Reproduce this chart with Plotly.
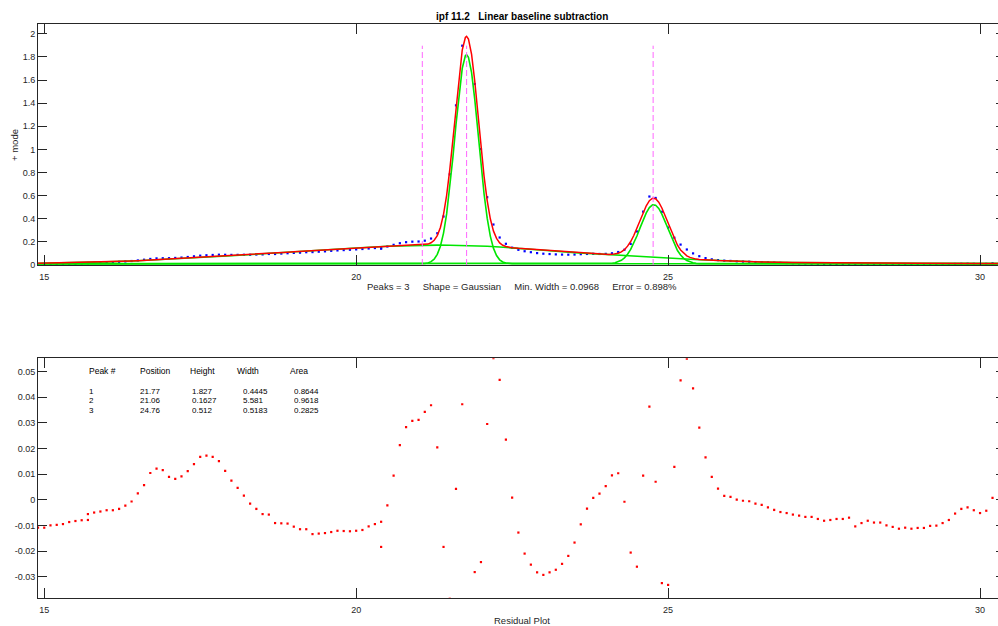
import plotly.graph_objects as go

NB = "\u00a0"

# ---------------- data ----------------
x_data = [14.9, 15.0, 15.1, 15.2, 15.3, 15.4, 15.5, 15.6, 15.7, 15.7, 15.8, 15.9,
          16.0, 16.1, 16.2, 16.3, 16.4, 16.5, 16.6, 16.7, 16.8, 16.9,
          17.0, 17.1, 17.2, 17.3, 17.4, 17.5, 17.6, 17.7, 17.8, 17.9,
          18.0, 18.1, 18.2, 18.3, 18.4, 18.5, 18.6, 18.7, 18.8, 18.9,
          19.0, 19.1, 19.2, 19.3, 19.4, 19.5, 19.6, 19.7, 19.8, 19.9,
          20.0, 20.1, 20.2, 20.3, 20.4, 20.4, 20.5, 20.6, 20.7, 20.8, 20.9,
          21.0, 21.1, 21.2, 21.3, 21.4, 21.5, 21.6, 21.7, 21.9,
          22.0, 22.1, 22.2, 22.3, 22.4, 22.5, 22.6, 22.7, 22.8, 22.9,
          23.0, 23.1, 23.2, 23.3, 23.4, 23.5, 23.6, 23.7, 23.8, 23.9,
          24.0, 24.1, 24.2, 24.3, 24.4, 24.5, 24.6, 24.7, 24.8, 24.9,
          25.0, 25.1, 25.2, 25.3, 25.4, 25.5, 25.6, 25.7, 25.8, 25.9,
          26.0, 26.1, 26.2, 26.3, 26.4, 26.5, 26.6, 26.7, 26.8, 26.9,
          27.0, 27.1, 27.2, 27.3, 27.4, 27.5, 27.6, 27.7, 27.8, 27.9,
          28.0, 28.1, 28.2, 28.3, 28.4, 28.5, 28.6, 28.7, 28.8, 28.9,
          29.0, 29.1, 29.2, 29.3, 29.4, 29.5, 29.6, 29.7, 29.8, 29.9,
          30.0, 30.1, 30.2]

y_data = [0.0042, 0.0052, 0.0071, 0.0073, 0.0086, 0.0104, 0.0118, 0.0131, 0.0152, 0.0175, 0.0191, 0.0215,
          0.0230, 0.0250, 0.0275, 0.0308, 0.0344, 0.0396, 0.0458, 0.0525, 0.0572, 0.0586,
          0.0590, 0.0612, 0.0642, 0.0692, 0.0750, 0.0808, 0.0843, 0.0868, 0.0891, 0.0883,
          0.0875, 0.0877, 0.0887, 0.0886, 0.0905, 0.0915, 0.0953, 0.0950, 0.0989, 0.1018,
          0.1046, 0.1066, 0.1106, 0.1117, 0.1149, 0.1181, 0.1225, 0.1260, 0.1289, 0.1318,
          0.1350, 0.1383, 0.1427, 0.1466, 0.1505, 0.1407, 0.1599, 0.1745, 0.1884, 0.1974, 0.2018,
          0.2032, 0.2103, 0.2289, 0.2745, 0.4197, 0.7845, 1.3813, 1.8973, 1.5659,
          1.0028, 0.5866, 0.3503, 0.2378, 0.1835, 0.1499, 0.1313, 0.1191, 0.1108, 0.1028,
          0.0978, 0.0948, 0.0918, 0.0901, 0.0892, 0.0904, 0.0935, 0.0956, 0.0968, 0.0955,
          0.0964, 0.1016, 0.1124, 0.1323, 0.1825, 0.2900, 0.4615, 0.5924, 0.5801, 0.4606,
          0.3239, 0.2359, 0.1766, 0.1341, 0.1005, 0.0762, 0.0596, 0.0490, 0.0424, 0.0376,
          0.0352, 0.0321, 0.0297, 0.0285, 0.0256, 0.0241, 0.0221, 0.0201, 0.0183, 0.0169,
          0.0153, 0.0139, 0.0134, 0.0124, 0.0106, 0.0099, 0.0092, 0.0096, 0.0086, 0.0091,
          0.0057, 0.0060, 0.0069, 0.0062, 0.0062, 0.0051, 0.0045, 0.0038, 0.0042, 0.0038,
          0.0031, 0.0031, 0.0039, 0.0040, 0.0050, 0.0062, 0.0087, 0.0105, 0.0111, 0.0100,
          0.0089, 0.0098, 0.0148]

residual = [-0.0108, -0.0108, -0.0099, -0.0097, -0.0094, -0.0086, -0.0082, -0.0079, -0.0078, -0.0055, -0.0049, -0.0045,
            -0.0040, -0.0040, -0.0035, -0.0022, -0.0006, 0.0026, 0.0058, 0.0105, 0.0122, 0.0116,
            0.0090, 0.0082, 0.0092, 0.0112, 0.0140, 0.0168, 0.0173, 0.0168, 0.0151, 0.0113,
            0.0075, 0.0047, 0.0017, -0.0014, -0.0035, -0.0055, -0.0057, -0.0090, -0.0091, -0.0092,
            -0.0104, -0.0114, -0.0114, -0.0133, -0.0131, -0.0129, -0.0125, -0.0120, -0.0121, -0.0122,
            -0.0120, -0.0117, -0.0103, -0.0094, -0.0085, -0.0183, -0.0021, 0.0095, 0.0214, 0.0284, 0.0308,
            0.0312, 0.0343, 0.0369, 0.0205, -0.0183, -0.0385, 0.0043, 0.0373, -0.0281,
            -0.0242, 0.0296, 0.0553, 0.0468, 0.0235, 0.0009, -0.0127, -0.0209, -0.0252, -0.0282,
            -0.0292, -0.0282, -0.0272, -0.0249, -0.0218, -0.0166, -0.0095, -0.0034, 0.0008, 0.0025,
            0.0054, 0.0096, 0.0104, -0.0007, -0.0205, -0.0260, 0.0095, 0.0364, 0.0071, -0.0324,
            -0.0331, 0.0129, 0.0466, 0.0551, 0.0435, 0.0282, 0.0166, 0.0090, 0.0044, 0.0016,
            0.0012, 0.0001, -0.0003, -0.0005, -0.0014, -0.0019, -0.0029, -0.0039, -0.0047, -0.0051,
            -0.0057, -0.0061, -0.0066, -0.0066, -0.0074, -0.0081, -0.0078, -0.0074, -0.0074, -0.0069,
            -0.0103, -0.0090, -0.0081, -0.0088, -0.0088, -0.0099, -0.0105, -0.0112, -0.0108, -0.0112,
            -0.0109, -0.0109, -0.0101, -0.0100, -0.0090, -0.0078, -0.0053, -0.0035, -0.0029, -0.0040,
            -0.0051, -0.0042, 0.0008]

# fitted model (red)
x_fit = [14.9, 15.0, 15.1, 15.2, 15.3, 15.4, 15.5, 15.6, 15.7, 15.8, 15.9,
         16.0, 16.1, 16.2, 16.3, 16.4, 16.5, 16.6, 16.7, 16.8, 16.9,
         17.0, 17.1, 17.2, 17.3, 17.4, 17.5, 17.6, 17.7, 17.8, 17.9,
         18.0, 18.1, 18.2, 18.3, 18.4, 18.5, 18.6, 18.7, 18.8, 18.9,
         19.0, 19.1, 19.2, 19.3, 19.4, 19.5, 19.6, 19.7, 19.8, 19.9,
         20.0, 20.1, 20.2, 20.3, 20.4, 20.5, 20.6, 20.7, 20.8, 20.9,
         21.0, 21.05, 21.1, 21.15, 21.2, 21.25, 21.3, 21.35, 21.4, 21.45,
         21.5, 21.55, 21.6, 21.65, 21.7, 21.75, 21.77, 21.8, 21.85, 21.9, 21.95,
         22.0, 22.05, 22.1, 22.15, 22.2, 22.25, 22.3, 22.35, 22.4, 22.45, 22.5,
         22.6, 22.7, 22.8, 22.9, 23.0, 23.1, 23.2, 23.3, 23.4, 23.5,
         23.6, 23.7, 23.8, 23.9, 24.0, 24.05, 24.1, 24.15, 24.2, 24.25,
         24.3, 24.35, 24.4, 24.45, 24.5, 24.55, 24.6, 24.65, 24.7, 24.75,
         24.8, 24.85, 24.9, 24.95, 25.0, 25.05, 25.1, 25.15, 25.2, 25.25,
         25.3, 25.35, 25.4, 25.45, 25.5, 25.6, 25.7, 25.8, 25.9, 26.0,
         26.5, 27.0, 27.5, 28.0, 29.0, 30.0, 30.4]
y_fit = [0.015, 0.016, 0.017, 0.017, 0.018, 0.019, 0.020, 0.021, 0.023, 0.024, 0.026,
         0.027, 0.029, 0.031, 0.033, 0.035, 0.037, 0.040, 0.042, 0.045, 0.047,
         0.050, 0.053, 0.055, 0.058, 0.061, 0.064, 0.067, 0.070, 0.074, 0.077,
         0.080, 0.083, 0.087, 0.090, 0.094, 0.097, 0.101, 0.104, 0.108, 0.111,
         0.115, 0.118, 0.122, 0.125, 0.128, 0.131, 0.135, 0.138, 0.141, 0.144,
         0.147, 0.150, 0.153, 0.156, 0.159, 0.162, 0.165, 0.167, 0.169, 0.171,
         0.172, 0.174, 0.176, 0.181, 0.192, 0.214, 0.254, 0.325, 0.438, 0.603,
         0.823, 1.089, 1.377, 1.649, 1.860, 1.968, 1.978, 1.955, 1.822, 1.594, 1.315,
         1.027, 0.767, 0.557, 0.400, 0.295, 0.230, 0.191, 0.171, 0.160, 0.154, 0.150,
         0.144, 0.140, 0.136, 0.131, 0.127, 0.123, 0.119, 0.115, 0.111, 0.107,
         0.103, 0.099, 0.096, 0.093, 0.091, 0.091, 0.092, 0.095, 0.102, 0.114,
         0.133, 0.163, 0.203, 0.255, 0.316, 0.385, 0.452, 0.512, 0.556, 0.578,
         0.573, 0.544, 0.493, 0.429, 0.357, 0.287, 0.223, 0.171, 0.130, 0.100,
         0.079, 0.066, 0.057, 0.051, 0.048, 0.043, 0.040, 0.038, 0.036, 0.034,
         0.026, 0.021, 0.018, 0.016, 0.015, 0.014, 0.014]

# component 1 (green)
x_comp1 = [14.9, 21.0, 21.05, 21.1, 21.15, 21.2, 21.25, 21.3, 21.35, 21.4, 21.45,
           21.5, 21.55, 21.6, 21.65, 21.7, 21.75, 21.77, 21.8, 21.85, 21.9, 21.95,
           22.0, 22.05, 22.1, 22.15, 22.2, 22.25, 22.3, 22.35, 22.4, 22.45, 22.5, 30.4]
y_comp1 = [0.010, 0.010, 0.011, 0.013, 0.018, 0.029, 0.051, 0.092, 0.163, 0.276, 0.442,
           0.662, 0.929, 1.217, 1.490, 1.701, 1.810, 1.820, 1.797, 1.665, 1.438, 1.160,
           0.873, 0.614, 0.405, 0.250, 0.146, 0.082, 0.045, 0.026, 0.017, 0.013, 0.011, 0.010]

# component 2 (green, broad)
x_comp2 = [14.9, 15.5, 16.0, 16.5, 17.0, 17.5, 18.0, 18.5, 19.0, 19.5, 20.0, 20.5,
           21.0, 21.1, 21.3, 21.5, 21.7, 21.9, 22.1, 22.3, 22.5, 23.0, 23.5, 24.0,
           24.5, 25.0, 25.5, 26.0, 26.5, 27.0, 27.5, 28.0, 29.0, 30.0, 30.4]
y_comp2 = [0.015, 0.020, 0.027, 0.037, 0.050, 0.064, 0.080, 0.097, 0.115, 0.131, 0.147, 0.162,
           0.172, 0.173, 0.172, 0.171, 0.169, 0.166, 0.162, 0.156, 0.149, 0.127, 0.107, 0.090,
           0.075, 0.060, 0.046, 0.034, 0.026, 0.021, 0.018, 0.016, 0.015, 0.014, 0.014]

# component 3 (green)
x_comp3 = [14.9, 24.0, 24.05, 24.1, 24.15, 24.2, 24.25, 24.3, 24.35, 24.4, 24.45,
           24.5, 24.55, 24.6, 24.65, 24.7, 24.75, 24.8, 24.85, 24.9, 24.95,
           25.0, 25.05, 25.1, 25.15, 25.2, 25.25, 25.3, 25.35, 25.4, 25.45, 25.5, 30.4]
y_comp3 = [0.010, 0.011, 0.012, 0.015, 0.020, 0.028, 0.041, 0.062, 0.093, 0.135, 0.188,
           0.251, 0.321, 0.390, 0.451, 0.497, 0.520, 0.517, 0.489, 0.440, 0.377,
           0.307, 0.238, 0.176, 0.125, 0.086, 0.057, 0.038, 0.026, 0.019, 0.014, 0.012, 0.010]

# results table
peak_num = ["1", "2", "3"]
peak_pos = [21.77, 21.06, 24.76]
peak_height = ["1.827", "0.1627", "0.512"]
peak_width = ["0.4445", "5.581", "0.5183"]
peak_area = ["0.8644", "0.9618", "0.2825"]

x_ticks = [15, 20, 25, 30]
y_ticks_top = [0, 0.2, 0.4, 0.6, 0.8, 1, 1.2, 1.4, 1.6, 1.8, 2]
y_ticks_res = [-0.03, -0.02, -0.01, 0, 0.01, 0.02, 0.03, 0.04, 0.05]
y_ticktext_res = ["-0.03", "-0.02", "-0.01", "0", "0.01", "0.02", "0.03", "0.04", "0.05"]

title_text = "ipf 11.2" + NB * 3 + "Linear baseline subtraction"
xlabel_text = ("Peaks = 3" + NB * 5 + "Shape = Gaussian" + NB * 5 +
               "Min. Width = 0.0968" + NB * 5 + "Error = 0.898%")

# ---------------- figure ----------------
FONT = "Liberation Sans, Arial, Helvetica, sans-serif"
AX = "#262626"
W, H = 1012, 626
ML, MR, MT, MB = 38, 7, 24, 28
PW = W - ML - MR
PH = H - MT - MB


def px_x(px):
    return (px - ML) / PW


def px_y(py):
    return (H - MB - py) / PH


fig = go.Figure()

fig.add_trace(go.Scatter(x=x_data, y=y_data, mode="markers",
                         marker=dict(symbol="square", size=2.2, color="#0000ff", line=dict(width=0)),
                         xaxis="x", yaxis="y", hoverinfo="skip"))
for xc, yc in [(x_comp1, y_comp1), (x_comp3, y_comp3), (x_comp2, y_comp2)]:
    fig.add_trace(go.Scatter(x=xc, y=yc, mode="lines", line=dict(color="#00e600", width=1.6),
                             xaxis="x", yaxis="y", hoverinfo="skip"))
fig.add_trace(go.Scatter(x=x_fit, y=y_fit, mode="lines", line=dict(color="#ff0000", width=1.5),
                         xaxis="x", yaxis="y", hoverinfo="skip"))
ymax = max(y_data)
for p in peak_pos:
    fig.add_trace(go.Scatter(x=[p, p], y=[0, ymax], mode="lines",
                             line=dict(color="#ff66ff", width=1, dash="6px,3px"),
                             xaxis="x", yaxis="y", hoverinfo="skip"))

fig.add_trace(go.Scatter(x=x_data, y=residual, mode="markers",
                         marker=dict(symbol="square", size=2.2, color="#ff0000", line=dict(width=0)),
                         xaxis="x2", yaxis="y2", hoverinfo="skip"))

axis_common = dict(showgrid=False, zeroline=False, showline=True, linecolor=AX, linewidth=1,
                   ticks="inside", tickcolor=AX, tickwidth=1, mirror="ticks",
                   tickfont=dict(family=FONT, size=9, color=AX))

fig.update_layout(
    width=W, height=H, margin=dict(l=ML, r=MR, t=MT, b=MB),
    paper_bgcolor="white", plot_bgcolor="white", showlegend=False,
    xaxis=dict(domain=[0, 1], range=[14.9, 30.4], tickvals=x_ticks, ticklen=10, anchor="y",
               ticklabelstandoff=3, **axis_common),
    yaxis=dict(domain=[px_y(265), 1], range=[0, 2.085], tickvals=y_ticks_top, ticklen=9, anchor="x",
               **axis_common),
    xaxis2=dict(domain=[0, 1], range=[14.9, 30.4], tickvals=x_ticks, ticklen=10, anchor="y2",
                ticklabelstandoff=3, **axis_common),
    yaxis2=dict(domain=[0, px_y(358.3)], range=[-0.0382, 0.0552], tickvals=y_ticks_res,
                ticktext=y_ticktext_res, ticklen=9, anchor="x2", **axis_common),
)

ann = []
ann.append(dict(text="<b>" + title_text + "</b>", x=0.5, y=px_y(17), xref="paper", yref="paper",
                showarrow=False, xanchor="center", yanchor="middle",
                font=dict(family=FONT, size=10, color="#000000")))
ann.append(dict(text=xlabel_text, x=0.5, y=px_y(286.5), xref="paper", yref="paper",
                showarrow=False, xanchor="center", yanchor="middle",
                font=dict(family=FONT, size=9.5, color=AX)))
ann.append(dict(text="Residual Plot", x=0.5, y=px_y(620.5), xref="paper", yref="paper",
                showarrow=False, xanchor="center", yanchor="middle",
                font=dict(family=FONT, size=9.5, color=AX)))
ann.append(dict(text="+ mode", x=px_x(14), y=px_y(145), xref="paper", yref="paper",
                showarrow=False, xanchor="center", yanchor="middle", textangle=-90,
                font=dict(family=FONT, size=9.5, color=AX)))

headers = ["Peak #", "Position", "Height", "Width", "Area"]
head_px = [86.7, 138, 188.3, 235, 287.7]
col_px = [87.3, 138.3, 190, 240.7, 292.3]
row_py = [391.0, 400.5, 410.0]
for h, hx in zip(headers, head_px):
    ann.append(dict(text=h, x=px_x(hx), y=px_y(370.7), xref="paper", yref="paper",
                    showarrow=False, xanchor="left", yanchor="middle",
                    font=dict(family=FONT, size=8.5, color="#000000")))
for i in range(3):
    vals = [peak_num[i], f"{peak_pos[i]:.2f}", peak_height[i], peak_width[i], peak_area[i]]
    for v, cx in zip(vals, col_px):
        ann.append(dict(text=v, x=px_x(cx), y=px_y(row_py[i]), xref="paper", yref="paper",
                        showarrow=False, xanchor="left", yanchor="middle", height=9,
                        font=dict(family=FONT, size=8, color="#000000")))

fig.update_layout(annotations=ann)

fig.write_html("out.html", config={"displayModeBar": False},
               post_script="document.documentElement.style.overflow='hidden';"
                           "document.body.style.margin='0';document.body.style.overflow='hidden';")
